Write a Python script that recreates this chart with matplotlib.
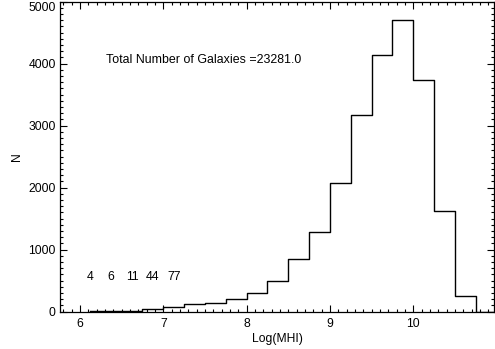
import numpy as np
import matplotlib.pyplot as plt
from matplotlib.ticker import MultipleLocator, FuncFormatter

plt.rcParams['font.family'] = ['Liberation Sans', 'DejaVu Sans']

# bin centres (log MHI) and galaxy counts
bin_centers = [6.125, 6.375, 6.625, 6.875, 7.125, 7.375, 7.625, 7.875,
               8.125, 8.375, 8.625, 8.875, 9.125, 9.375, 9.625, 9.875,
               10.125, 10.375, 10.625, 10.875, 11.125]
counts = [4, 6, 11, 44, 77, 118, 142, 200,
          305, 495, 840, 1280, 2075, 3177, 4145, 4694,
          3737, 1618, 242, 0, 0]

# the small counts printed above the first bins
low_labels = ['4', '6', '11', '44', '77']
total = 23281.0
ymax = 5000

fig = plt.figure(figsize=(4.95, 3.49), dpi=100)
ax = fig.add_axes([60/495, 37.5/349, 434/495, 310/349])

ax.step(bin_centers, counts, where='mid', color='black', lw=1.0)

for i in range(len(low_labels)):
	ax.text(bin_centers[i], 560, low_labels[i], ha='center', va='center', fontsize=8.8)

ax.text(6.31, 4050, 'Total Number of Galaxies =%.1f' % total, ha='left', va='center', fontsize=8.9)

ax.set_xlim(5.76, 10.97)
ax.set_ylim(0, ymax)
ax.xaxis.set_major_locator(MultipleLocator(1))
ax.xaxis.set_minor_locator(MultipleLocator(0.1))
ax.yaxis.set_major_locator(MultipleLocator(1000))
ax.yaxis.set_minor_locator(MultipleLocator(100))
# top label drawn by hand a bit lower so it stays inside the picture
ax.yaxis.set_major_formatter(FuncFormatter(lambda v, p: '' if v >= ymax else '%d' % v))
ax.annotate('%d' % ymax, xy=(0, 1), xycoords='axes fraction', xytext=(-3, -4.5),
	textcoords='offset points', ha='right', va='center', fontsize=8.7)
ax.tick_params(which='both', direction='in', top=True, right=True, labelsize=8.7, width=0.8)
ax.tick_params(axis='y', pad=3)
ax.tick_params(axis='x', pad=5)
ax.tick_params(which='major', length=5)
ax.tick_params(which='minor', length=2.5)
for s in ax.spines.values():
	s.set_linewidth(0.9)

ax.set_xlabel('Log(MHI)', fontsize=8.7, labelpad=2)
ax.set_ylabel('N', fontsize=8.7, labelpad=4)

fig.savefig('out.png', dpi=100)
